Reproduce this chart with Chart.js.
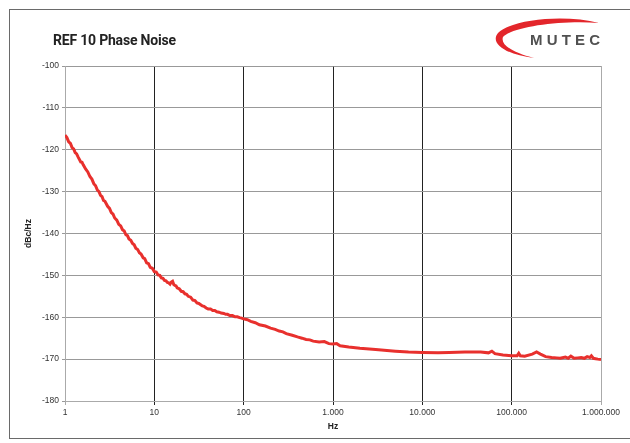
<!DOCTYPE html>
<html><head><meta charset="utf-8">
<script src="https://cdn.jsdelivr.net/npm/chart.js@4/dist/chart.umd.min.js"></script>
<style>
html,body{margin:0;padding:0;background:#fff;width:630px;height:443px;overflow:hidden;position:relative;font-family:"Liberation Sans",Arial,sans-serif}
#frame{position:absolute;left:9px;top:9px;width:640px;height:430px;border:1.5px solid #6a6a6a;box-sizing:border-box}
#c{position:absolute;left:0;top:0}
#title{position:absolute;left:53px;top:32px;font-family:Roboto,"Noto Sans",sans-serif;font-weight:700;font-size:14px;color:#222;letter-spacing:-0.2px}
#logo{position:absolute;left:0;top:0;width:630px;height:443px;pointer-events:none}
#brand{position:absolute;left:530px;top:31px;font-family:"Liberation Sans",Arial,sans-serif;font-weight:700;font-size:15px;color:#505050;letter-spacing:4.2px}
</style></head>
<body>
<div id="frame"></div>
<canvas id="c" width="630" height="443"></canvas>
<div id="title">REF 10 Phase Noise</div>
<svg id="logo" width="630" height="443"><path d="M599,23 C565,14 512,19 498,33 C489,44 508,55 534,58 C514,53 500,45 503,37 C512,27 560,20 599,23 Z" fill="#e3262b"/></svg>
<div id="brand">MUTEC</div>
<script>
const freqHz = [1,1.05,1.1,1.15,1.2,1.25,1.3,1.35,1.4,1.5,1.55,1.6,1.7,1.8,1.9,2,2.1,2.2,2.3,2.4,2.5,2.6,2.7,2.8,3,3.15,3.3,3.45,3.6,3.8,4,4.2,4.4,4.6,4.8,5,5.2,5.45,5.7,5.95,6.2,6.5,6.8,7.1,7.5,7.8,8.2,8.6,9,9.5,10,10.5,11,11.5,12,12.5,13,13.5,14,14.5,15,15.5,16,16.5,17,17.5,18,19,20,21,22,23,24,25.5,27,28.5,30,31.5,33,34.5,36,38,40,42.5,45,47.5,50,53,56,60,63,66,70,75,80,85,90,95,100,110,120,135,150,175,200,225,250,275,300,350,400,450,500,550,600,700,800,900,1000,1100,1200,1500,2000,3000,5000,7000,10000,15000,20000,30000,45000,55000,60000,65000,80000,100000,115000,120000,125000,140000,170000,190000,210000,240000,280000,320000,350000,380000,400000,430000,460000,500000,550000,600000,650000,700000,750000,780000,820000,870000,920000,1000000];
const phaseNoise = [-116.5,-117.1,-118.1,-118.5,-119.5,-119.8,-120.7,-121.0,-121.7,-122.9,-123.0,-123.6,-124.6,-125.3,-126.4,-127.0,-128.1,-128.6,-129.6,-130.0,-130.9,-131.2,-132.1,-132.3,-133.5,-134.0,-135.0,-135.4,-136.3,-136.8,-137.8,-138.2,-139.1,-139.4,-140.3,-140.5,-141.3,-141.6,-142.4,-142.7,-143.5,-143.8,-144.6,-144.9,-145.8,-146.0,-147.0,-147.2,-148.1,-148.3,-149.1,-149.2,-149.9,-150.0,-150.6,-150.7,-151.2,-151.3,-151.7,-151.8,-152.1,-151.6,-151.4,-152.2,-152.4,-152.5,-153.0,-153.2,-153.8,-153.9,-154.4,-154.5,-155.0,-155.2,-155.9,-156.0,-156.6,-156.7,-157.0,-157.3,-157.4,-157.8,-158.0,-158.0,-158.4,-158.4,-158.7,-158.8,-159.0,-159.1,-159.3,-159.3,-159.6,-159.6,-159.9,-159.9,-160.1,-160.2,-160.4,-160.6,-161.0,-161.3,-161.8,-162.1,-162.6,-162.9,-163.3,-163.5,-163.9,-164.3,-164.7,-165.0,-165.3,-165.4,-165.7,-165.9,-165.8,-166.3,-166.4,-166.3,-166.8,-167.1,-167.4,-167.7,-168.1,-168.3,-168.4,-168.5,-168.4,-168.3,-168.3,-168.5,-168.1,-168.7,-169.0,-169.2,-169.2,-168.6,-169.2,-169.3,-168.8,-168.3,-168.8,-169.4,-169.6,-169.7,-169.8,-169.6,-169.5,-169.8,-169.3,-169.8,-169.7,-169.6,-169.8,-169.4,-169.6,-169.2,-169.8,-169.9,-170.0,-170.1];
const xTicks = [1,10,100,1000,10000,100000,1000000];
const yTicks = [-100,-110,-120,-130,-140,-150,-160,-170,-180];

function fmtDE(v){return String(Math.round(v)).replace(/\B(?=(\d{3})+(?!\d))/g,'.');}
const tickFont = {family:'"Liberation Sans", Arial, sans-serif', size:8.5};
const titleFont = {family:'"Liberation Sans", Arial, sans-serif', size:8.5, weight:'bold'};

new Chart(document.getElementById('c'), {
  type:'line',
  data:{datasets:[{
    data: freqHz.map((f,i)=>({x:f,y:phaseNoise[i]})),
    borderColor:'#e8302d', borderWidth:3, pointRadius:0, tension:0, fill:false
  }]},
  options:{
    responsive:false, animation:false,
    layout:{padding:{top:66,right:29,bottom:0,left:0}},
    plugins:{legend:{display:false},title:{display:false},tooltip:{enabled:false}},
    scales:{
      x:{type:'logarithmic',min:1,max:1000000,
        afterBuildTicks:s=>{s.ticks=xTicks.map(v=>({value:v}));},
        afterFit:s=>{s.height=42;},
        ticks:{callback:v=>fmtDE(v),autoSkip:false,maxRotation:0,font:tickFont,color:'#333',padding:3},
        grid:{color:c=>(c.tick&&(c.tick.value===1||c.tick.value===1000000))?'#aaa':'#222',lineWidth:1,tickLength:4},
        border:{color:'#aaa'},
        title:{display:true,text:'Hz',font:titleFont,color:'#222',padding:{top:0,bottom:11}}
      },
      y:{min:-180,max:-100,
        afterBuildTicks:s=>{s.ticks=yTicks.map(v=>({value:v}));},
        afterFit:s=>{s.width=65;},
        ticks:{font:tickFont,color:'#333',padding:3},
        grid:{color:'#999',lineWidth:1,tickLength:3},
        border:{color:'#aaa'},
        title:{display:true,text:'dBc/Hz',font:titleFont,color:'#222',padding:24}
      }
    }
  }
});
</script>
</body></html>
